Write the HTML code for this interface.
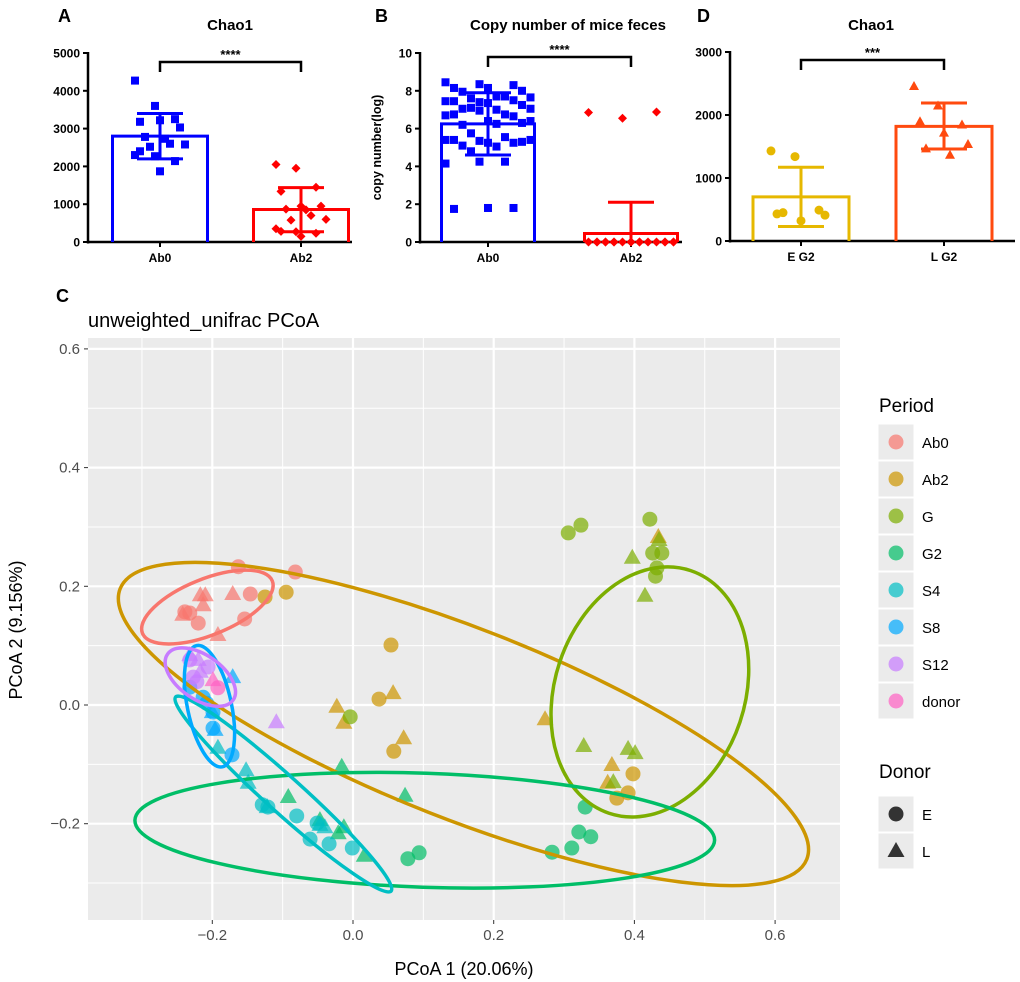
<!DOCTYPE html>
<html><head><meta charset="utf-8"><style>
body{margin:0;background:#fff}
svg{display:block;font-family:"Liberation Sans",Arial,sans-serif}
</style></head><body>
<svg id="s" width="1020" height="982" viewBox="0 0 1020 982"></svg>
<script>
// ---------- Panel A data ----------
const aCats=["Ab0","Ab2"];
const aMeans=[2800,860];
const aUpper=[3400,1440];
const aLower=[2200,270];
const aPtsAb0=[4270,3600,3250,3180,3220,3030,2780,2730,2580,2520,2600,2300,2270,2140,2400,1870];
const aPtsAb2=[2050,1950,1450,1340,950,950,870,850,600,580,700,350,270,230,280,150];
const aTicks=[0,1000,2000,3000,4000,5000];
// ---------- Panel B data ----------
const bCats=["Ab0","Ab2"];
const bMeans=[6.25,0.45];
const bUpper=[7.9,2.1];
const bLower=[4.6,0];
const bPtsAb0=[8.45,8.35,8.3,8.15,8.15,8.0,7.95,7.7,7.65,7.6,7.7,7.45,7.4,7.5,7.45,7.35,7.25,7.05,7.0,7.05,7.1,6.75,6.7,6.95,6.65,6.75,6.4,6.3,6.2,6.25,6.4,5.75,5.55,5.4,5.35,5.25,5.4,5.25,5.3,5.1,5.05,5.4,4.8,4.25,4.15,4.25,1.8,1.75,1.8];
const bPtsAb2=[6.85,6.55,6.88,0,0,0,0,0,0,0,0,0,0,0,0,0,0,0,0,0,0];
const bTicks=[0,2,4,6,8,10];
// ---------- Panel D data ----------
const dCats=["E G2","L G2"];
const dMeans=[700,1820];
const dUpper=[1170,2190];
const dLower=[230,1460];
const dPtsE=[1430,1340,490,430,320,410,450];
const dPtsL=[2460,2150,1850,1900,1720,1540,1470,1370];
const dTicks=[0,1000,2000,3000];
// ---------- PCoA data ----------
const groups=["Ab0","Ab2","G","G2","S4","S8","S12","donor"];
const gColors=["#F8766D","#CD9600","#7CAE00","#00BE67","#00BFC4","#00A9FF","#C77CFF","#FF61C3"];
const ptsAb0C=[[-0.163,0.233],[-0.082,0.224],[-0.146,0.187],[-0.239,0.157],[-0.220,0.138],[-0.154,0.145],[-0.232,0.155]];
const ptsAb0T=[[-0.217,0.185],[-0.210,0.185],[-0.171,0.187],[-0.213,0.168],[-0.242,0.152],[-0.192,0.118]];
const ptsAb2C=[[-0.125,0.182],[-0.095,0.190],[0.054,0.101],[0.037,0.010],[0.058,-0.078],[0.398,-0.116],[0.391,-0.148],[0.375,-0.157]];
const ptsAb2T=[[0.057,0.020],[-0.023,-0.003],[-0.013,-0.030],[0.072,-0.056],[0.273,-0.024],[0.368,-0.101],[0.362,-0.131],[0.434,0.283]];
const ptsGC=[[0.306,0.290],[0.324,0.303],[0.422,0.313],[0.426,0.256],[0.439,0.256],[0.432,0.231],[0.430,0.217],[-0.004,-0.020]];
const ptsGT=[[0.397,0.248],[0.415,0.184],[0.435,0.278],[0.328,-0.069],[0.391,-0.074],[0.401,-0.081],[0.370,-0.130]];
const ptsG2C=[[0.078,-0.259],[0.094,-0.249],[0.330,-0.172],[0.321,-0.214],[0.338,-0.222],[0.283,-0.248],[0.311,-0.241]];
const ptsG2T=[[-0.016,-0.104],[0.074,-0.153],[-0.092,-0.155],[-0.047,-0.194],[-0.021,-0.216],[-0.013,-0.206],[0.016,-0.254]];
const ptsS4C=[[-0.129,-0.168],[-0.121,-0.172],[-0.080,-0.187],[-0.061,-0.226],[-0.034,-0.234],[-0.001,-0.241],[-0.051,-0.199]];
const ptsS4T=[[-0.192,-0.072],[-0.152,-0.110],[-0.149,-0.131],[-0.122,-0.172],[-0.047,-0.202],[-0.040,-0.206]];
const ptsS8C=[[-0.213,0.013],[-0.208,0.003],[-0.199,-0.012],[-0.199,-0.039],[-0.172,-0.084],[-0.232,0.030]];
const ptsS8T=[[-0.171,0.047],[-0.196,-0.042],[-0.200,-0.012]];
const ptsS12C=[[-0.227,0.047],[-0.222,0.039],[-0.206,0.064],[-0.232,0.076]];
const ptsS12T=[[-0.232,0.084],[-0.220,0.076],[-0.109,-0.029],[-0.217,0.056]];
const ptsDonorC=[[-0.192,0.029]];
const ptsDonorT=[[-0.199,0.042]];
const ellCx=[-0.207,0.157,0.422,0.102,-0.099,-0.204,-0.217,null];
const ellCy=[0.165,-0.032,0.022,-0.211,-0.150,-0.002,0.047,null];
const xTicks=[-0.2,0,0.2,0.4,0.6];
const yTicks=[-0.2,0,0.2,0.4,0.6];
</script>
<script>
const NS="http://www.w3.org/2000/svg";
const svg=document.getElementById('s');
function mk(tag,attrs,parent){const e=document.createElementNS(NS,tag);for(const k in attrs)e.setAttribute(k,attrs[k]);(parent||svg).appendChild(e);return e;}
function txt(x,y,s,attrs,parent){const t=mk('text',Object.assign({x:x,y:y},attrs),parent);t.textContent=s;return t;}

function barPanel(cfg){
  const g=mk('g',{});
  
  
  const ys=v=>cfg.y0-(v-0)/(cfg.ymax)*(cfg.y0-cfg.ytop);
  const L=txt(cfg.letterX,22,cfg.letter,{'font-size':18,'font-weight':'bold'},g);
  
  const T=txt(cfg.titleX,30,cfg.title,{'font-size':15,'font-weight':'bold','text-anchor':'middle'},g);
  
  mk('line',{x1:cfg.ax,y1:cfg.ytop-1,x2:cfg.ax,y2:cfg.y0+1.5,stroke:'#000','stroke-width':2.5},g);
  mk('line',{x1:cfg.ax-1,y1:cfg.y0,x2:cfg.axEnd,y2:cfg.y0,stroke:'#000','stroke-width':2.5},g);
  cfg.ticks.forEach(t=>{const y=ys(t);
    mk('line',{x1:cfg.ax-5,y1:y,x2:cfg.ax,y2:y,stroke:'#000','stroke-width':2},g);
    const tl=txt(cfg.ax-8,y+4.5,String(t),{'font-size':12,'font-weight':'bold','text-anchor':'end'},g);
    });
  if(cfg.ylabel){const yl=txt(0,0,cfg.ylabel,{'font-size':12.5,'font-weight':'bold','text-anchor':'middle',transform:`translate(${cfg.ylx},${(cfg.y0+cfg.ytop)/2}) rotate(-90)`},g);
    }
  cfg.cats.forEach((c,i)=>{
    const cx=cfg.cx[i],col=cfg.colors[i];
    mk('line',{x1:cx,y1:cfg.y0,x2:cx,y2:cfg.y0+5,stroke:'#000','stroke-width':2},g);
    const cl=txt(cx,cfg.y0+20,c,{'font-size':12,'font-weight':'bold','text-anchor':'middle'},g);
    
    const yt=ys(cfg.means[i]);
    const b=mk('path',{d:`M${cx-cfg.bw/2},${cfg.y0} V${yt} H${cx+cfg.bw/2} V${cfg.y0}`,fill:'none',stroke:col,'stroke-width':3},g);
    
    const eb=mk('g',{},g);
    mk('line',{x1:cx,y1:ys(cfg.upper[i]),x2:cx,y2:ys(cfg.lower[i]),stroke:col,'stroke-width':3},eb);
    mk('line',{x1:cx-23,y1:ys(cfg.upper[i]),x2:cx+23,y2:ys(cfg.upper[i]),stroke:col,'stroke-width':3},eb);
    if(cfg.lower[i]>0)mk('line',{x1:cx-23,y1:ys(cfg.lower[i]),x2:cx+23,y2:ys(cfg.lower[i]),stroke:col,'stroke-width':3},eb);
    const pts=cfg.pts[i];
    pts.forEach((v,j)=>{
      const off=((j*37)%11-5)*cfg.spread;const px=cx+off,py=ys(v);
      let p;
      if(cfg.shapes[i]==='sq')p=mk('rect',{x:px-4,y:py-4,width:8,height:8,fill:col},g);
      else if(cfg.shapes[i]==='di')p=mk('path',{d:`M${px},${py-4.5}L${px+4.5},${py}L${px},${py+4.5}L${px-4.5},${py}Z`,fill:col},g);
      else if(cfg.shapes[i]==='ci')p=mk('circle',{cx:px,cy:py,r:4.5,fill:col},g);
      else p=mk('path',{d:`M${px},${py-5}L${px+5},${py+4}L${px-5},${py+4}Z`,fill:col},g);
      
    });
  });
  const br=mk('path',{d:`M${cfg.cx[0]},${cfg.brY+10}V${cfg.brY}H${cfg.cx[1]}V${cfg.brY+10}`,fill:'none',stroke:'#000','stroke-width':2.5},g);
  
  const st=txt((cfg.cx[0]+cfg.cx[1])/2,cfg.brY-3,cfg.stars,{'font-size':13,'font-weight':'bold','text-anchor':'middle'},g);
  
}
barPanel({name:'panel-a-chao1',letter:'A',letterX:58,title:'Chao1',titleX:230,ax:88,axEnd:352,y0:242,ytop:53,ymax:5000,ticks:aTicks,
  cats:aCats,cx:[160,301],bw:95,colors:['#0000FF','#FF0000'],means:aMeans,upper:aUpper,lower:aLower,pts:[aPtsAb0,aPtsAb2],shapes:['sq','di'],spread:5,brY:62,stars:'****'});
barPanel({name:'panel-b-copy-number',letter:'B',letterX:375,title:'Copy number of mice feces',titleX:568,ax:420,axEnd:682,y0:242,ytop:53,ymax:10,ticks:bTicks,ylabel:'copy number(log)',ylx:381,
  cats:bCats,cx:[488,631],bw:93,colors:['#0000FF','#FF0000'],means:bMeans,upper:bUpper,lower:bLower,pts:[bPtsAb0,bPtsAb2],shapes:['sq','di'],spread:8.5,brY:57,stars:'****'});
barPanel({name:'panel-d-chao1',letter:'D',letterX:697,title:'Chao1',titleX:871,ax:730,axEnd:1015,y0:241,ytop:52,ymax:3000,ticks:dTicks,
  cats:dCats,cx:[801,944],bw:96,colors:['#E6B800','#FF4A0F'],means:dMeans,upper:dUpper,lower:dLower,pts:[dPtsE,dPtsL],shapes:['ci','tr'],spread:6,brY:60,stars:'***'});

const P={x0:88,x1:840,y0:338,y1:920};
const sx=v=>353+v*703.5, sy=v=>705-v*593.5;
const pc=mk('g',{});
const cl=txt(56,302,'C',{'font-size':18,'font-weight':'bold'},pc);
const ct=txt(88,327,'unweighted_unifrac PCoA',{'font-size':20,fill:'#000'},pc);
const bg=mk('rect',{x:P.x0,y:P.y0,width:P.x1-P.x0,height:P.y1-P.y0,fill:'#EBEBEB'},pc);
for(let v=-0.3;v<=0.71;v+=0.2){const x=sx(v);if(x>P.x0&&x<P.x1)mk('line',{x1:x,y1:P.y0,x2:x,y2:P.y1,stroke:'#fff','stroke-width':1},pc);}
for(let v=-0.3;v<=0.71;v+=0.2){const y=sy(v);if(y>P.y0&&y<P.y1)mk('line',{x1:P.x0,y1:y,x2:P.x1,y2:y,stroke:'#fff','stroke-width':1},pc);}
xTicks.forEach(v=>{const x=sx(v);mk('line',{x1:x,y1:P.y0,x2:x,y2:P.y1,stroke:'#fff','stroke-width':2.2},pc);
  mk('line',{x1:x,y1:P.y1,x2:x,y2:P.y1+4,stroke:'#333','stroke-width':1},pc);
  const t=txt(x,P.y1+20,v===0?'0.0':v.toFixed(1).replace('-','−'),{'font-size':15,fill:'#4D4D4D','text-anchor':'middle'},pc);
  });
yTicks.forEach(v=>{const y=sy(v);mk('line',{x1:P.x0,y1:y,x2:P.x1,y2:y,stroke:'#fff','stroke-width':2.2},pc);
  mk('line',{x1:P.x0-4,y1:y,x2:P.x0,y2:y,stroke:'#333','stroke-width':1},pc);
  const t=txt(P.x0-8,y+5,v===0?'0.0':v.toFixed(1).replace('-','−'),{'font-size':15,fill:'#4D4D4D','text-anchor':'end'},pc);
  });
const xl=txt(464,975,'PCoA 1 (20.06%)',{'font-size':18,'text-anchor':'middle'},pc);
const yl=txt(0,0,'PCoA 2 (9.156%)',{'font-size':18,'text-anchor':'middle',transform:'translate(22,630) rotate(-90)'},pc);

const ellShape=[[70,28,-22],[369,95,21.5],[128,95,108.6],[290,57,2],[145,18,42],[62,22,78],[40,22,35]];
const cp=mk('clipPath',{id:'clip'},pc);mk('rect',{x:P.x0,y:P.y0,width:P.x1-P.x0,height:P.y1-P.y0},cp);
const pg=mk('g',{'clip-path':'url(#clip)'},pc);
const ptSets=[[ptsAb0C,ptsAb0T],[ptsAb2C,ptsAb2T],[ptsGC,ptsGT],[ptsG2C,ptsG2T],[ptsS4C,ptsS4T],[ptsS8C,ptsS8T],[ptsS12C,ptsS12T],[ptsDonorC,ptsDonorT]];
ptSets.forEach((set,gi)=>{
  set[0].forEach(p=>{const c=mk('circle',{cx:sx(p[0]),cy:sy(p[1]),r:7.5,fill:gColors[gi],'fill-opacity':0.7},pg);
    });
  set[1].forEach(p=>{const x=sx(p[0]),y=sy(p[1]);const t=mk('path',{d:`M${x},${y-9}L${x+8.5},${y+6}L${x-8.5},${y+6}Z`,fill:gColors[gi],'fill-opacity':0.7},pg);
    });
});
groups.forEach((gname,i)=>{if(ellCx[i]===null)return;const s=ellShape[i];
  const e=mk('ellipse',{cx:0,cy:0,rx:s[0],ry:s[1],fill:'none',stroke:gColors[i],'stroke-width':3.5,transform:`translate(${sx(ellCx[i])},${sy(ellCy[i])}) rotate(${s[2]})`},pg);
  });

const lg=mk('g',{});
txt(879,412,'Period',{'font-size':19},lg);
groups.forEach((gname,i)=>{const y=424+i*37;
  const k=mk('g',{},lg);
  mk('rect',{x:878,y:y,width:36,height:36,fill:'#EBEBEB',stroke:'#fff'},k);
  mk('circle',{cx:896,cy:y+18,r:7.5,fill:gColors[i],'fill-opacity':0.7},k);
  txt(922,y+24,gname,{'font-size':15},k);});
txt(879,778,'Donor',{'font-size':19},lg);
['E','L'].forEach((s,i)=>{const y=796+i*37;
  const k=mk('g',{},lg);
  mk('rect',{x:878,y:y,width:36,height:36,fill:'#EBEBEB',stroke:'#fff'},k);
  if(i===0)mk('circle',{cx:896,cy:y+18,r:7.5,fill:'#333'},k);
  else mk('path',{d:`M896,${y+9}L904.5,${y+24}L887.5,${y+24}Z`,fill:'#333'},k);
  txt(922,y+24,s,{'font-size':15},k);});
</script>
</body></html>
